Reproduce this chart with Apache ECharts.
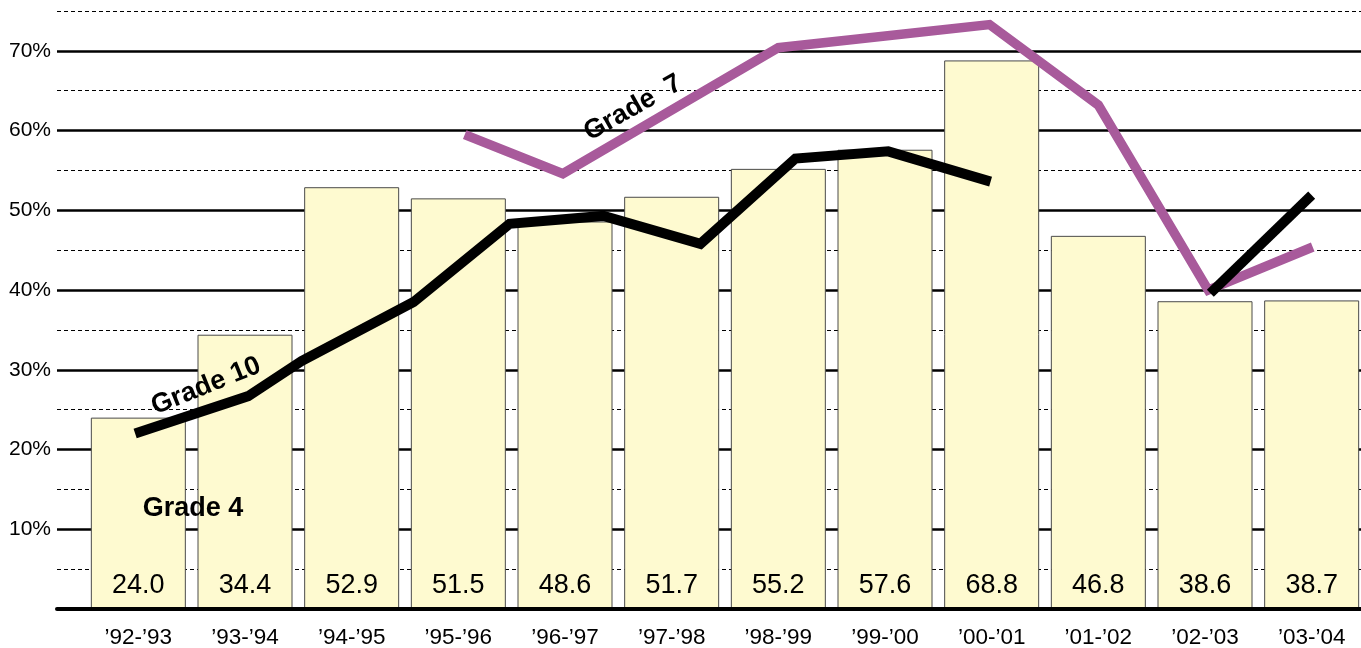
<!DOCTYPE html>
<html>
<head>
<meta charset="utf-8">
<script src="https://cdn.jsdelivr.net/npm/echarts@6/dist/echarts.min.js"></script>
<style>
  html, body { margin: 0; padding: 0; background: #ffffff; }
  #chart { width: 1361px; height: 648px; }
</style>
</head>
<body>
<div id="chart"></div>
<script>
// School years on the horizontal axis
const years = ["’92-’93", "’93-’94", "’94-’95", "’95-’96", "’96-’97", "’97-’98",
               "’98-’99", "’99-’00", "’00-’01", "’01-’02", "’02-’03", "’03-’04"];

// Grade 4 results (bars)
const grade4 = [24.0, 34.4, 52.9, 51.5, 48.6, 51.7, 55.2, 57.6, 68.8, 46.8, 38.6, 38.7];

// Grade 7 and Grade 10 traces: [position along the year axis, percent]
const grade7 = [[3.06, 59.5], [3.98, 54.6], [6.0, 70.4], [7.98, 73.3],
                [9.0, 63.2], [10.03, 40.0], [11.01, 45.4]];
const grade10Early = [[-0.03, 22.0], [1.03, 26.7], [1.53, 31.1], [2.58, 38.5],
                      [3.48, 48.3], [4.36, 49.3], [5.27, 45.8], [6.16, 56.5],
                      [7.03, 57.4], [7.99, 53.6]];
const grade10Late = [[10.05, 39.6], [11.0, 51.9]];

// Percent scale
const yMax = 75;
const yLabelled = [10, 20, 30, 40, 50, 60, 70];

const FONT = '"Liberation Sans", Arial, Helvetica, sans-serif';
const chart = echarts.init(document.getElementById('chart'), null, { renderer: 'canvas' });

const lineStyleBase = { width: 10, cap: 'butt', join: 'miter' };

chart.setOption({
  animation: false,
  backgroundColor: '#ffffff',
  textStyle: { fontFamily: FONT },
  grid: [
    // background rules and baseline
    { left: 57, right: 0, top: 11, bottom: 39, outerBoundsMode: 'none', containLabel: false },
    // data area
    { left: 85, width: 1280, top: 11, bottom: 39, outerBoundsMode: 'none', containLabel: false }
  ],
  xAxis: [
    {
      gridIndex: 0, type: 'value', min: 0, max: 1, z: 10,
      axisLine: { show: true, lineStyle: { color: '#000', width: 4 } },
      axisTick: { show: false }, axisLabel: { show: false }, splitLine: { show: false }
    },
    {
      gridIndex: 1, type: 'category', data: years,
      axisLine: { show: false }, axisTick: { show: false }, splitLine: { show: false },
      axisLabel: { color: '#000', fontSize: 22.5, fontFamily: FONT, margin: 17, interval: 0 }
    },
    {
      gridIndex: 1, type: 'value', min: -0.5, max: 11.5, show: false
    }
  ],
  yAxis: [
    {
      gridIndex: 0, type: 'value', min: 0, max: yMax, interval: 5,
      axisLine: { show: false }, axisTick: { show: false },
      axisLabel: {
        color: '#000', fontSize: 21, fontFamily: FONT, margin: 6,
        formatter: v => (yLabelled.indexOf(v) >= 0 ? v + '%' : '')
      },
      splitLine: { show: true, showMinLine: false, lineStyle: { color: '#000', width: 1, type: [4, 3] } }
    },
    {
      gridIndex: 0, type: 'value', min: 0, max: yMax, interval: 10,
      axisLine: { show: false }, axisTick: { show: false }, axisLabel: { show: false },
      splitLine: { show: true, showMinLine: false, showMaxLine: false,
                   lineStyle: { color: '#000', width: 2.6, type: 'solid' } }
    },
    {
      gridIndex: 1, type: 'value', min: 0, max: yMax, show: false
    }
  ],
  series: [
    {
      name: 'Grade 4', type: 'bar', xAxisIndex: 1, yAxisIndex: 2,
      data: grade4, barWidth: 95,
      itemStyle: { color: '#FEFAD0', borderColor: '#4a4a4a', borderWidth: 1 },
      label: {
        show: true, position: 'insideBottom', distance: 10,
        color: '#000', fontSize: 27, fontFamily: FONT,
        formatter: p => p.value.toFixed(1)
      }
    },
    {
      name: 'Grade 7', type: 'line', xAxisIndex: 2, yAxisIndex: 2,
      data: grade7, symbol: 'none', z: 3,
      lineStyle: Object.assign({}, lineStyleBase, { color: '#A85A9B', width: 9.5 })
    },
    {
      name: 'Grade 10', type: 'line', xAxisIndex: 2, yAxisIndex: 2,
      data: grade10Early, symbol: 'none', z: 4,
      lineStyle: Object.assign({}, lineStyleBase, { color: '#000' })
    },
    {
      name: 'Grade 10', type: 'line', xAxisIndex: 2, yAxisIndex: 2,
      data: grade10Late, symbol: 'none', z: 4,
      lineStyle: Object.assign({}, lineStyleBase, { color: '#000' })
    }
  ],
  graphic: [
    {
      type: 'text', x: 193, y: 509, z: 20,
      style: { text: 'Grade 4', font: 'bold 27px ' + FONT, fill: '#000',
               align: 'center', verticalAlign: 'middle' }
    },
    {
      type: 'text', x: 206, y: 386, z: 20, rotation: 22 * Math.PI / 180,
      style: { text: 'Grade 10', font: 'bold 27px ' + FONT, fill: '#000',
               align: 'center', verticalAlign: 'middle' }
    },
    {
      type: 'text', x: 633, y: 108, z: 20, rotation: 29.5 * Math.PI / 180,
      style: { text: 'Grade  7', font: 'bold 27px ' + FONT, fill: '#000',
               align: 'center', verticalAlign: 'middle' }
    }
  ]
});
</script>
</body>
</html>
